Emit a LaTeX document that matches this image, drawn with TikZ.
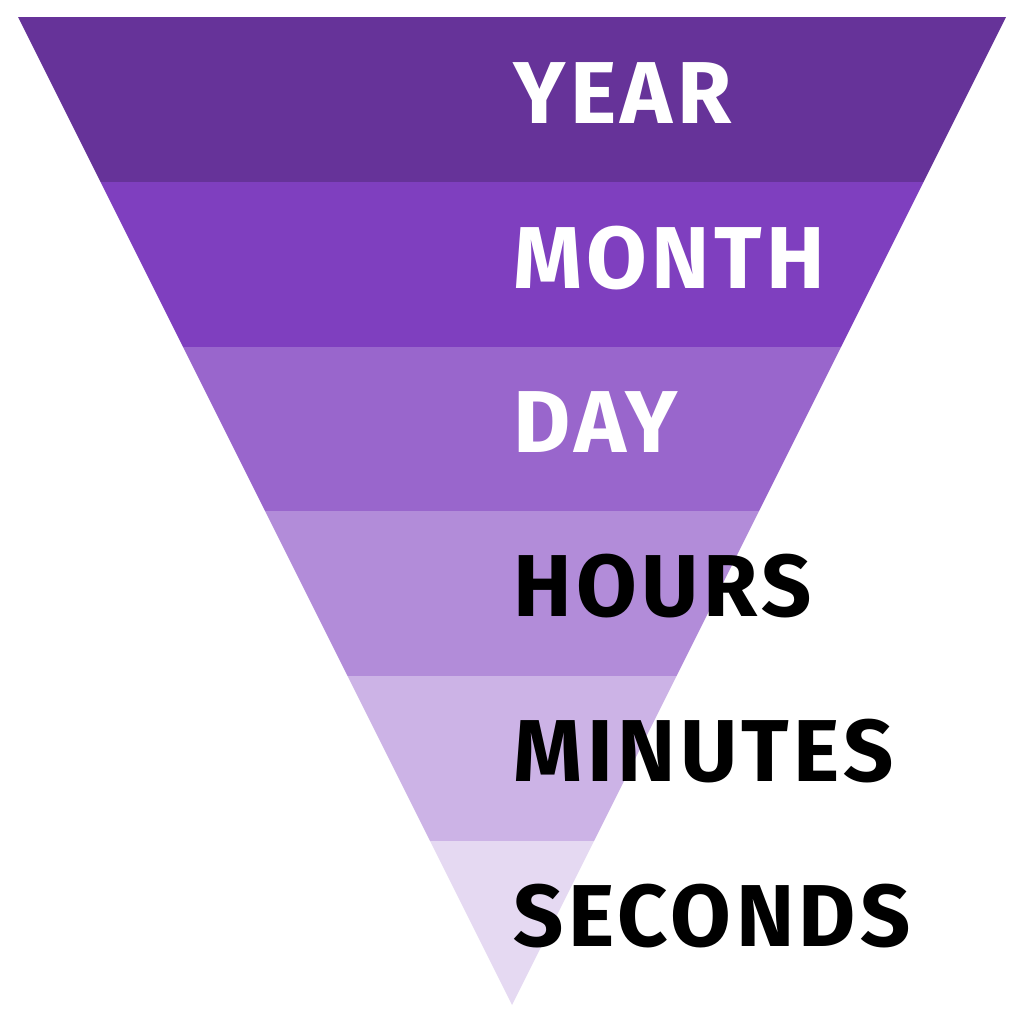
\documentclass[tikz,border=0pt]{standalone}
\usepackage{fontspec}
\setmainfont{Fira Sans}[LetterSpace=5]
\usepackage{xcolor}
\usetikzlibrary{positioning}
\definecolor{bandA}{HTML}{663399}
\definecolor{bandB}{HTML}{7F3FBF}
\definecolor{bandC}{HTML}{9966CC}
\definecolor{bandD}{HTML}{B28CD9}
\definecolor{bandE}{HTML}{CCB3E6}
\definecolor{bandF}{HTML}{E5D9F2}
\begin{document}
\begin{tikzpicture}[x=0.01cm, y=-0.01cm,
    every node/.style={font=\fontsize{25}{30}\selectfont\bfseries, anchor=base west, inner sep=0pt},
    band/.style={draw=none},
    lightlbl/.style={text=white},
    darklbl/.style={text=black},
  ]
    \useasboundingbox (0,0) rectangle (1024,1024);

    \coordinate (tl)   at (18,17);
    \coordinate (tr)   at (1006,17);
    \coordinate (apex) at (512,1005);

    \begin{scope}
      \clip (tl) -- (tr) -- (apex) -- cycle;
      \fill[band, bandA] (0,17)  rectangle (1024,182);
      \fill[band, bandB] (0,182) rectangle (1024,347);
      \fill[band, bandC] (0,347) rectangle (1024,511);
      \fill[band, bandD] (0,511) rectangle (1024,676);
      \fill[band, bandE] (0,676) rectangle (1024,841);
      \fill[band, bandF] (0,841) rectangle (1024,1006);
    \end{scope}

    \node[lightlbl] (year)    at (513,123) {YEAR};
    \node[lightlbl] (month)   at (513,288) {MONTH};
    \node[lightlbl] (day)     at (513,452) {DAY};
    \node[darklbl]  (hours)   at (513,616) {HOURS};
    \node[darklbl]  (minutes) at (513,781) {MINUTES};
    \node[darklbl]  (seconds) at (513,946) {SECONDS};
  \end{tikzpicture}
\end{document}
